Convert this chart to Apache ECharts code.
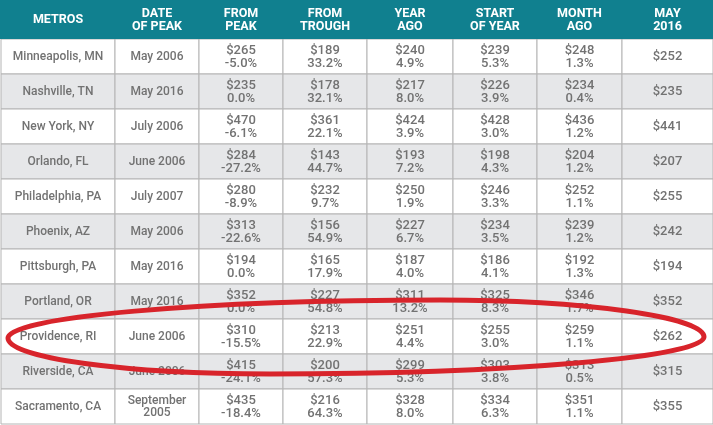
<!DOCTYPE html>
<html>
<head>
<meta charset="utf-8">
<script src="https://cdn.jsdelivr.net/npm/echarts@6/dist/echarts.min.js"></script>
<style>
  html, body { margin: 0; padding: 0; background: #ffffff; }
  #dataView { width: 713px; height: 425px; }
</style>
</head>
<body>
<div id="dataView"></div>
<script>
// table data
var headers = ['METROS', 'DATE\nOF PEAK', 'FROM\nPEAK', 'FROM\nTROUGH', 'YEAR\nAGO', 'START\nOF YEAR', 'MONTH\nAGO', 'MAY\n2016'];
var metros = ['Minneapolis, MN', 'Nashville, TN', 'New York, NY', 'Orlando, FL', 'Philadelphia, PA', 'Phoenix, AZ',
	'Pittsburgh, PA', 'Portland, OR', 'Providence, RI', 'Riverside, CA', 'Sacramento, CA'];
var peakDates = ['May 2006', 'May 2016', 'July 2006', 'June 2006', 'July 2007', 'May 2006',
	'May 2016', 'May 2016', 'June 2006', 'June 2006', 'September\n2005'];
var fromPeakRent = [265, 235, 470, 284, 280, 313, 194, 352, 310, 415, 435];
var fromPeakPct = [-5.0, 0.0, -6.1, -27.2, -8.9, -22.6, 0.0, 0.0, -15.5, -24.1, -18.4];
var fromTroughRent = [189, 178, 361, 143, 232, 156, 165, 227, 213, 200, 216];
var fromTroughPct = [33.2, 32.1, 22.1, 44.7, 9.7, 54.9, 17.9, 54.8, 22.9, 57.3, 64.3];
var yearAgoRent = [240, 217, 424, 193, 250, 227, 187, 311, 251, 299, 328];
var yearAgoPct = [4.9, 8.0, 3.9, 7.2, 1.9, 6.7, 4.0, 13.2, 4.4, 5.3, 8.0];
var startYearRent = [239, 226, 428, 198, 246, 234, 186, 325, 255, 303, 334];
var startYearPct = [5.3, 3.9, 3.0, 4.3, 3.3, 3.5, 4.1, 8.3, 3.0, 3.8, 6.3];
var monthAgoRent = [248, 234, 436, 204, 252, 239, 192, 346, 259, 313, 351];
var monthAgoPct = [1.3, 0.4, 1.2, 1.2, 1.1, 1.2, 1.3, 1.7, 1.1, 0.5, 1.1];
var may2016 = [252, 235, 441, 207, 255, 242, 194, 352, 262, 315, 355];

// column layout (px, relative to grid left)
var colEdges = [0, 114, 198, 282, 366, 452, 536, 621, 712];
var FONT = '"Roboto", "Liberation Sans", sans-serif';
var TEAL = '#10808f';

var pairs = [
	[fromPeakRent, fromPeakPct],
	[fromTroughRent, fromTroughPct],
	[yearAgoRent, yearAgoPct],
	[startYearRent, startYearPct],
	[monthAgoRent, monthAgoPct]
];

function cellText(col, row) {
	if (col == 0) return metros[row];
	if (col == 1) return peakDates[row];
	if (col == 7) return '$' + may2016[row];
	var p = pairs[col - 2];
	return '$' + p[0][row] + '\n' + p[1][row].toFixed(1) + '%';
}

var cells = [];
metros.forEach(function(m, r) {
	for (var c = 0; c < 8; c++) {
		cells.push([c, m]);
	}
});

function renderCell(params, api) {
	var col = api.value(0);
	var row = params.dataIndex / 8 | 0;
	var left = api.coord([colEdges[col], metros[row]]);
	var right = api.coord([colEdges[col + 1], metros[row]]);
	var h = api.size([0, 1])[1];
	var y0 = left[1] - h / 2;
	var size = col < 2 ? 12 : 13;
	return {
		type: 'group',
		children: [{
			type: 'rect',
			shape: { x: left[0], y: y0, width: right[0] - left[0], height: h },
			style: { fill: row % 2 == 1 ? '#e6e7e9' : '#ffffff', stroke: '#b4b4b4', lineWidth: 1 }
		}, {
			type: 'text',
			style: {
				text: cellText(col, row),
				x: (left[0] + right[0]) / 2,
				y: left[1] + 0.5,
				align: 'center',
				verticalAlign: 'middle',
				fill: '#727272',
				font: '500 ' + size + 'px ' + FONT,
				lineHeight: 12.5
			}
		}]
	};
}

// header cells
var headerGraphic = [{
	type: 'rect',
	left: 0, top: 0,
	shape: { width: 713, height: 39 },
	style: { fill: TEAL },
	z: 10
}];
headers.forEach(function(h, i) {
	headerGraphic.push({
		type: 'text',
		x: 1 + (colEdges[i] + colEdges[i + 1]) / 2,
		y: 20,
		z: 11,
		style: {
			text: h,
			align: 'center',
			verticalAlign: 'middle',
			fill: '#ffffff',
			font: 'bold 12.5px ' + FONT,
			lineHeight: 13
		}
	});
});

// red hand-drawn ellipse round the Providence row
var RED = '#d8242b';
function curve(x1, y1, c1x, c1y, c2x, c2y, x2, y2) {
	return {
		type: 'bezierCurve',
		z: 20,
		shape: { x1: x1, y1: y1, cpx1: c1x, cpy1: c1y, cpx2: c2x, cpy2: c2y, x2: x2, y2: y2 },
		style: { stroke: RED, lineWidth: 5, fill: null }
	};
}
var ellipse = [
	curve(8, 338, 8, 317, 202, 300, 440, 300),
	curve(440, 300, 585, 300, 704, 317, 704, 337),
	curve(704, 337, 704, 357, 509, 374, 270, 374),
	curve(270, 374, 126, 374, 8, 358, 8, 338)
];

var dataViewcharts = echarts.init(document.getElementById('dataView'));
var dataViewoption = {
	animation: false,
	grid: { left: 1, top: 39, width: 712, height: 385 },
	xAxis: { type: 'value', min: 0, max: 712, show: false },
	yAxis: { type: 'category', data: metros, inverse: true, show: false },
	graphic: headerGraphic.concat(ellipse),
	series: [{
		type: 'custom',
		renderItem: renderCell,
		data: cells,
		encode: { x: 0, y: 1 }
	}]
};
dataViewcharts.setOption(dataViewoption);
</script>
</body>
</html>
